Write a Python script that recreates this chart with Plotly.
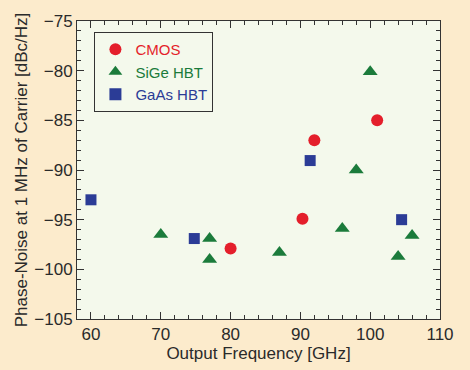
import plotly.graph_objects as go

cmos_x = [80, 90.3, 92, 101]
cmos_y = [-97.9, -94.9, -87, -85]
sige_x = [70, 77, 77, 87, 96, 98, 100, 104, 106]
sige_y = [-96.5, -96.9, -99.0, -98.3, -95.9, -90, -80.1, -98.7, -96.6]
gaas_x = [60, 74.8, 91.4, 104.5]
gaas_y = [-93, -96.9, -89.05, -95]

RED = "#E41F2B"
GREEN = "#1B7B3B"
BLUE = "#2B3C96"
TXT = "#2a2a2a"

fig = go.Figure()
fig.add_trace(go.Scatter(x=cmos_x, y=cmos_y, mode="markers",
                         name=f"<span style='color:{RED}'>CMOS</span>",
                         marker=dict(symbol="circle", size=12, color=RED)))
fig.add_trace(go.Scatter(x=sige_x, y=sige_y, mode="markers",
                         name=f"<span style='color:{GREEN}'>SiGe HBT</span>",
                         marker=dict(symbol="triangle-up", size=13, color=GREEN)))
fig.add_trace(go.Scatter(x=gaas_x, y=gaas_y, mode="markers",
                         name=f"<span style='color:{BLUE}'>GaAs HBT</span>",
                         marker=dict(symbol="square", size=11, color=BLUE)))

axis_common = dict(
    showline=True, linecolor="#333333", linewidth=1, mirror="ticks",
    ticks="inside", ticklen=7, tickcolor="#333333", showgrid=False, zeroline=False,
    tickfont=dict(size=17, color=TXT), automargin=False,
)
fig.update_xaxes(range=[58, 110], tick0=60, dtick=10,
                 minor=dict(dtick=2, ticks="inside", ticklen=4, tickcolor="#333333"),
                 title=dict(text="Output Frequency [GHz]", font=dict(size=17, color=TXT), standoff=2),
                 **axis_common)
fig.update_yaxes(range=[-105, -75], tick0=-105, dtick=5,
                 minor=dict(dtick=1, ticks="inside", ticklen=4, tickcolor="#333333"),
                 title=dict(text="Phase-Noise at 1 MHz of Carrier [dBc/Hz]", font=dict(size=17, color=TXT), standoff=2),
                 **axis_common)
fig.update_layout(
    width=470, height=370,
    margin=dict(l=77, r=30, t=21, b=51, autoexpand=False),
    paper_bgcolor="#FCEBCC", plot_bgcolor="#F4F9EC",
    font=dict(family="Liberation Sans, Arial, sans-serif"),
    legend=dict(x=0.048, y=0.963, xanchor="left", yanchor="top",
                bgcolor="#F4F9EC", bordercolor="#333333", borderwidth=1,
                font=dict(size=15), itemsizing="constant", itemwidth=30, tracegroupgap=0),
    showlegend=True,
)
fig.write_html("out.html", config={"displayModeBar": False},
               post_script="document.body.style.margin='0';")
